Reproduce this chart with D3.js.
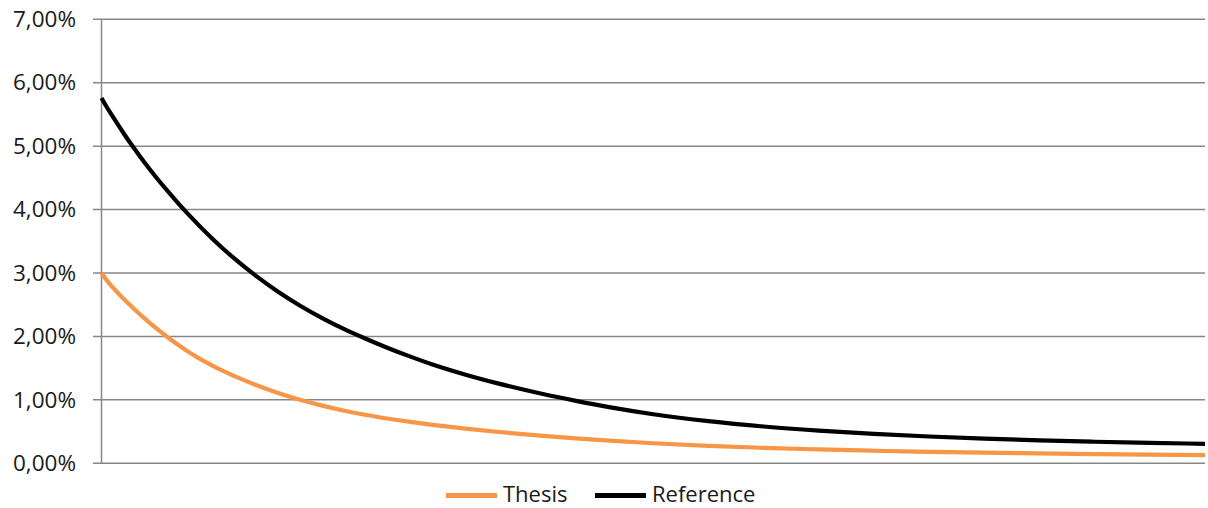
<!DOCTYPE html>
<html>
<head>
<meta charset="utf-8">
<script src="https://cdn.jsdelivr.net/npm/d3@7"></script>
<style>
  html, body { margin: 0; padding: 0; background: #fff; }
  svg { display: block; }
  text { font-family: "Open Sans", "Liberation Sans", sans-serif; fill: #1a1a1a; }
</style>
</head>
<body>
<svg id="chart" width="1208" height="508"></svg>
<script>
// ---- data ----
const xValues = [0, 0.5, 1, 2, 3, 4, 5, 6, 7, 8, 10, 12, 14, 16, 18, 20, 22, 24, 26, 28, 30, 33, 36, 40, 43, 46, 50, 55, 60, 65, 70, 75, 80, 85, 90, 95, 100];
const thesisValues = [3.00, 2.88, 2.776, 2.593, 2.426, 2.27, 2.124, 1.988, 1.861, 1.744, 1.544, 1.379, 1.235, 1.11, 1.002, 0.909, 0.829, 0.761, 0.703, 0.652, 0.607, 0.547, 0.494, 0.433, 0.393, 0.357, 0.316, 0.275, 0.244, 0.219, 0.198, 0.181, 0.167, 0.155, 0.145, 0.137, 0.128];
const referenceValues = [5.76, 5.61, 5.472, 5.204, 4.954, 4.718, 4.498, 4.29, 4.091, 3.901, 3.549, 3.234, 2.955, 2.705, 2.485, 2.29, 2.115, 1.96, 1.815, 1.682, 1.558, 1.397, 1.256, 1.092, 0.985, 0.886, 0.774, 0.664, 0.58, 0.516, 0.465, 0.4225, 0.389, 0.362, 0.34, 0.322, 0.307];
const seriesNames = ["Thesis", "Reference"];
const seriesColors = ["#F79646", "#000000"];
const yTicks = [0, 1, 2, 3, 4, 5, 6, 7];

(function () {
  const svg = d3.select("#chart");
  const mLeft = 101.5, mRight = 1205, mTop = 19.3, mBottom = 463.3;

  const x = d3.scaleLinear().domain([0, 100]).range([mLeft, mRight]);
  const y = d3.scaleLinear().domain([0, 7]).range([mBottom, mTop]);

  const gridColor = "#878787";

  // gridlines (extend slightly left as tick marks)
  svg.append("g")
    .selectAll("line")
    .data(yTicks)
    .join("line")
    .attr("x1", mLeft - 8.5)
    .attr("x2", mRight)
    .attr("y1", d => y(d))
    .attr("y2", d => y(d))
    .attr("stroke", gridColor)
    .attr("stroke-width", 1.5);

  // vertical axis line
  svg.append("line")
    .attr("x1", mLeft).attr("x2", mLeft)
    .attr("y1", y(0)).attr("y2", y(7))
    .attr("stroke", gridColor)
    .attr("stroke-width", 1.5);

  // y axis labels
  const fmt = d => d3.format(".2f")(d).replace(".", ",") + "%";
  const yAxis = d3.axisLeft(y).tickValues(yTicks).tickFormat(fmt).tickSize(8.5).tickPadding(17);
  const ga = svg.append("g").attr("transform", `translate(${mLeft},0)`).call(yAxis);
  ga.select(".domain").remove();
  ga.selectAll(".tick line").remove();
  ga.selectAll("text")
    .style("font-family", "'Open Sans', 'Liberation Sans', sans-serif")
    .style("font-size", "22.5px")
    .attr("fill", "#1a1a1a");

  // lines
  const line = d3.line()
    .x((d, i) => x(xValues[i]))
    .y(d => y(d))
    .curve(d3.curveMonotoneX);

  const allSeries = [thesisValues, referenceValues];
  svg.append("g")
    .selectAll("path")
    .data(allSeries)
    .join("path")
    .attr("d", d => line(d))
    .attr("fill", "none")
    .attr("stroke", (d, i) => seriesColors[i])
    .attr("stroke-width", 4.2)
    .attr("stroke-linejoin", "round");

  // legend
  const legendItems = [
    { name: seriesNames[0], color: seriesColors[0], x1: 446, textX: 503 },
    { name: seriesNames[1], color: seriesColors[1], x1: 595, textX: 652 }
  ];
  const lg = svg.append("g");
  const ly = 495.5;
  legendItems.forEach(it => {
    lg.append("line")
      .attr("x1", it.x1).attr("x2", it.x1 + 51)
      .attr("y1", ly).attr("y2", ly)
      .attr("stroke", it.color)
      .attr("stroke-width", 5);
    lg.append("text")
      .attr("x", it.textX)
      .attr("y", 502.3)
      .style("font-size", "22px")
      .text(it.name);
  });
})();
</script>
</body>
</html>
